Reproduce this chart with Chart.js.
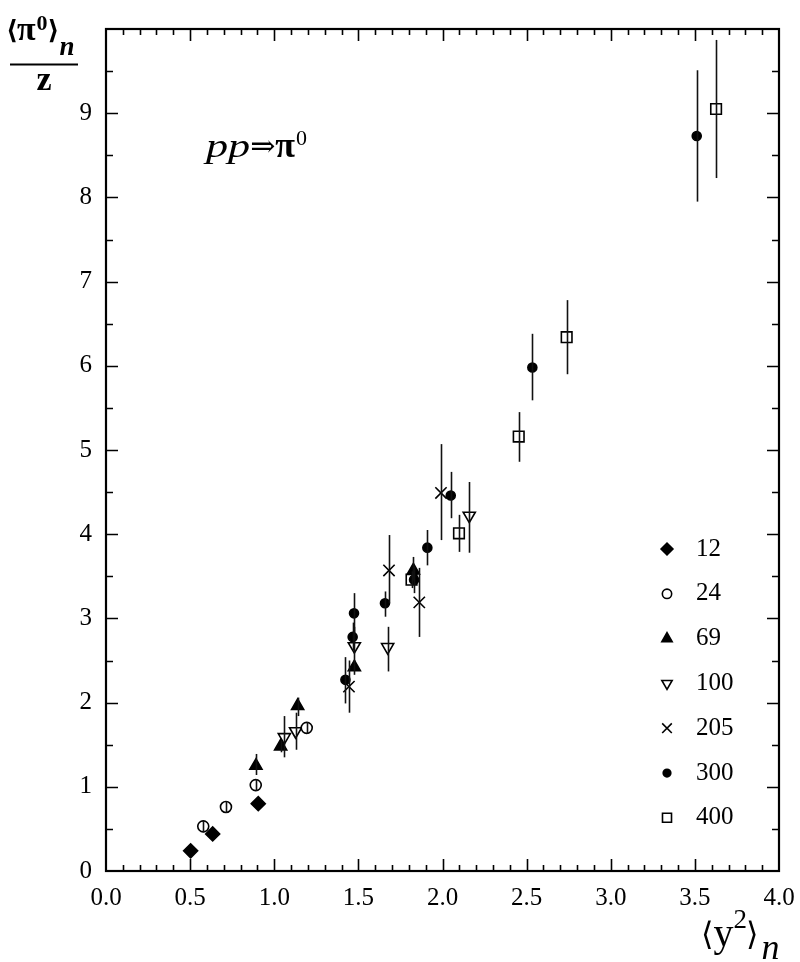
<!DOCTYPE html>
<html>
<head>
<meta charset="utf-8">
<script src="https://cdn.jsdelivr.net/npm/chart.js@4/dist/chart.umd.min.js"></script>
<style>
html,body{margin:0;padding:0;background:#fff;}
#wrap{width:800px;height:962px;}
</style>
</head>
<body>
<div id="wrap"><canvas id="c" width="800" height="962"></canvas></div>
<script>
// ---- data ----
const seriesLabels = ['12','24','69','100','205','300','400'];
const xTickLabels = ['0.0','0.5','1.0','1.5','2.0','2.5','3.0','3.5','4.0'];

const x12 = [0.503, 0.634, 0.905];
const y12 = [0.24, 0.44, 0.80];
const lo12 = [0.24, 0.44, 0.80];
const hi12 = [0.24, 0.44, 0.80];

const x24 = [0.578, 0.713, 0.89, 1.193];
const y24 = [0.53, 0.76, 1.02, 1.70];
const lo24 = [0.46, 0.69, 0.95, 1.63];
const hi24 = [0.60, 0.83, 1.09, 1.77];

const x69 = [0.891, 1.038, 1.139, 1.476, 1.827];
const y69 = [1.25, 1.48, 1.96, 2.42, 3.57];
const lo69 = [1.14, 1.41, 1.84, 2.33, 3.45];
const hi69 = [1.39, 1.55, 2.06, 2.50, 3.73];

const x100 = [1.06, 1.127, 1.476, 1.674, 2.159];
const y100 = [1.59, 1.66, 2.67, 2.66, 4.22];
const lo100 = [1.35, 1.44, 2.47, 2.37, 3.78];
const hi100 = [1.84, 1.88, 2.90, 2.90, 4.62];

const x205 = [1.444, 1.682, 1.862, 1.991];
const y205 = [2.19, 3.57, 3.19, 4.49];
const lo205 = [1.88, 3.18, 2.78, 3.93];
const hi205 = [2.50, 3.99, 3.60, 5.07];

const x300 = [1.423, 1.466, 1.474, 1.658, 1.831, 1.91, 2.049, 2.534, 3.511];
const y300 = [2.27, 2.78, 3.06, 3.18, 3.46, 3.84, 4.46, 5.98, 8.73];
const lo300 = [1.99, 2.62, 2.80, 3.02, 3.30, 3.63, 4.19, 5.59, 7.95];
const hi300 = [2.54, 2.95, 3.30, 3.32, 3.62, 4.05, 4.74, 6.38, 9.51];

const x400 = [1.816, 2.098, 2.453, 2.738, 3.626];
const y400 = [3.46, 4.01, 5.16, 6.34, 9.05];
const lo400 = [3.36, 3.79, 4.86, 5.90, 8.23];
const hi400 = [3.56, 4.23, 5.45, 6.78, 9.87];

// ---- build datasets ----
const SERIF = "'Liberation Serif', 'Times New Roman', Times, serif";
const SYM = "'DejaVu Serif', serif";
const styles = [
  {pointStyle:'rectRot', radius:7, fill:'#000', rotation:0},
  {pointStyle:'circle', radius:5.5, fill:'#fff', rotation:0},
  {pointStyle:'triangle', radius:7, fill:'#000', rotation:0},
  {pointStyle:'triangle', radius:7, fill:'#fff', rotation:180},
  {pointStyle:'crossRot', radius:8, fill:'#fff', rotation:0},
  {pointStyle:'circle', radius:4.5, fill:'#000', rotation:0},
  {pointStyle:'rect', radius:7.5, fill:'#fff', rotation:0}
];
const xs = [x12,x24,x69,x100,x205,x300,x400];
const ys = [y12,y24,y69,y100,y205,y300,y400];
const los = [lo12,lo24,lo69,lo100,lo205,lo300,lo400];
const his = [hi12,hi24,hi69,hi100,hi205,hi300,hi400];

const datasets = seriesLabels.map((lab,i)=>({
  label: lab,
  data: xs[i].map((v,j)=>({x:v, y:ys[i][j], lo:los[i][j], hi:his[i][j]})),
  pointStyle: styles[i].pointStyle,
  pointRadius: styles[i].radius,
  pointRotation: styles[i].rotation,
  pointBackgroundColor: styles[i].fill,
  pointBorderColor: '#000',
  pointBorderWidth: 1.6,
  showLine: false
}));

// ---- plugin: frame, inward ticks, error bars, legend, titles ----
const decor = {
  id:'decor',
  afterDatasetsDraw(chart){
    const ctx = chart.ctx, xS = chart.scales.x, yS = chart.scales.y;
    ctx.save();
    ctx.strokeStyle = '#111';
    ctx.lineWidth = 1.6;
    chart.data.datasets.forEach(ds=>{
      ds.data.forEach(p=>{
        if (p.hi - p.lo <= 0) return;
        const px = Math.round(xS.getPixelForValue(p.x))+0.5;
        ctx.beginPath();
        ctx.moveTo(px, yS.getPixelForValue(p.lo));
        ctx.lineTo(px, yS.getPixelForValue(p.hi));
        ctx.stroke();
      });
    });
    ctx.restore();
  },
  afterDraw(chart){
    const ctx = chart.ctx, a = chart.chartArea, xS = chart.scales.x, yS = chart.scales.y;
    ctx.save();
    ctx.strokeStyle = '#000';
    ctx.lineWidth = 2.2;
    ctx.strokeRect(a.left, a.top, a.right - a.left, a.bottom - a.top);
    ctx.lineWidth = 1.6;
    for (let k = 1; k < 40; k++) {
      const v = k/10, px = Math.round(xS.getPixelForValue(v))+0.5;
      const len = (k % 5 === 0) ? 12 : 6;
      ctx.beginPath();
      ctx.moveTo(px, a.bottom); ctx.lineTo(px, a.bottom - len);
      ctx.moveTo(px, a.top); ctx.lineTo(px, a.top + len);
      ctx.stroke();
    }
    for (let k = 1; k < 20; k++) {
      const v = k/2, py = Math.round(yS.getPixelForValue(v))+0.5;
      const len = (k % 2 === 0) ? 12 : 7;
      ctx.beginPath();
      ctx.moveTo(a.left, py); ctx.lineTo(a.left + len, py);
      ctx.moveTo(a.right, py); ctx.lineTo(a.right - len, py);
      ctx.stroke();
    }
    // legend
    const lx = a.right - 112, tx = a.right - 83;
    const ly0 = a.top + 520, dy = 44.8;
    chart.data.datasets.forEach((ds,i)=>{
      const y = ly0 + i*dy;
      ctx.fillStyle = styles[i].fill;
      ctx.strokeStyle = '#000';
      ctx.lineWidth = 1.6;
      Chart.helpers.drawPoint(ctx, {pointStyle: styles[i].pointStyle, radius: styles[i].radius*0.85, rotation: styles[i].rotation, borderWidth: 1.6}, lx, y);
      ctx.fillStyle = '#000';
      ctx.font = '25px ' + SERIF;
      ctx.textAlign = 'left';
      ctx.textBaseline = 'middle';
      ctx.fillText(ds.label, tx, y);
    });
    function run(x, pieces){
      ctx.textAlign = 'left';
      ctx.textBaseline = 'alphabetic';
      pieces.forEach(p=>{
        ctx.font = p.f;
        x += (p.dx||0);
        const sx = p.sx || 1;
        ctx.save();
        ctx.translate(x, p.y);
        ctx.scale(sx, 1);
        ctx.fillText(p.t, 0, 0);
        ctx.restore();
        x += ctx.measureText(p.t).width * sx;
      });
    }
    ctx.fillStyle = '#000';
    // y-axis title
    run(6, [
      {t:'\u27E8', f:'bold 26px ' + SYM, y:39},
      {t:'\u03C0', f:'bold 34px ' + SERIF, y:40, dx:-1},
      {t:'0', f:'bold 22px ' + SERIF, y:30, dx:1},
      {t:'\u27E9', f:'bold 26px ' + SYM, y:39, dx:0},
      {t:'n', f:'bold italic 27px ' + SERIF, y:55, dx:0}
    ]);
    ctx.strokeStyle = '#000';
    ctx.lineWidth = 2;
    ctx.beginPath(); ctx.moveTo(10, 64.5); ctx.lineTo(78, 64.5); ctx.stroke();
    ctx.font = 'bold 34px ' + SERIF;
    ctx.textAlign = 'center';
    ctx.fillText('z', 44, 90);
    // x-axis title
    run(701, [
      {t:'\u27E8', f:'32px ' + SYM, y:945},
      {t:'y', f:'40px ' + SERIF, y:946},
      {t:'2', f:'27px ' + SERIF, y:928, dx:0},
      {t:'\u27E9', f:'32px ' + SYM, y:945, dx:-1},
      {t:'n', f:'italic 36px ' + SERIF, y:959, dx:3}
    ]);
    // reaction label
    run(206, [
      {t:'pp', f:'italic 34px ' + SERIF, y:157, sx:1.3},
      {t:'\u21D2', f:'30px ' + SYM, y:156, dx:0},
      {t:'\u03C0', f:'bold 36px ' + SERIF, y:157, dx:0},
      {t:'0', f:'22px ' + SERIF, y:145, dx:1}
    ]);
    ctx.restore();
  }
};

function build(){
  new Chart(document.getElementById('c'), {
    type: 'scatter',
    data: { datasets },
    options: {
      responsive: false,
      animation: false,
      layout: { padding: { top: 29, right: 21, left: 0, bottom: 0 } },
      plugins: { legend: { display: false }, tooltip: { enabled: false } },
      scales: {
        x: {
          type: 'linear', min: 0, max: 4,
          afterFit(s){ s.height = 91; s.paddingLeft = 0; s.paddingRight = 0; },
          grid: { display: false, drawTicks: false },
          border: { display: false },
          ticks: {
            stepSize: 0.5, padding: 12, color: '#000',
            font: { family: SERIF, size: 25 },
            maxRotation: 0, autoSkip: false,
            callback: (v) => xTickLabels[Math.round(v*2)] ?? ''
          }
        },
        y: {
          type: 'linear', min: 0, max: 10,
          afterFit(s){ s.width = 106; s.paddingTop = 0; s.paddingBottom = 0; },
          grid: { display: false, drawTicks: false },
          border: { display: false },
          ticks: {
            stepSize: 1, padding: 14, color: '#000',
            font: { family: SERIF, size: 25 },
            callback: v => (v >= 10 ? '' : String(v))
          }
        }
      }
    },
    plugins: [decor]
  });
}
if (document.fonts && document.fonts.load) {
  Promise.all([
    document.fonts.load("25px 'Liberation Serif'"),
    document.fonts.load("italic 25px 'Liberation Serif'"),
    document.fonts.load("bold 25px 'Liberation Serif'")
  ]).then(build, build);
} else { build(); }
</script>
</body>
</html>
